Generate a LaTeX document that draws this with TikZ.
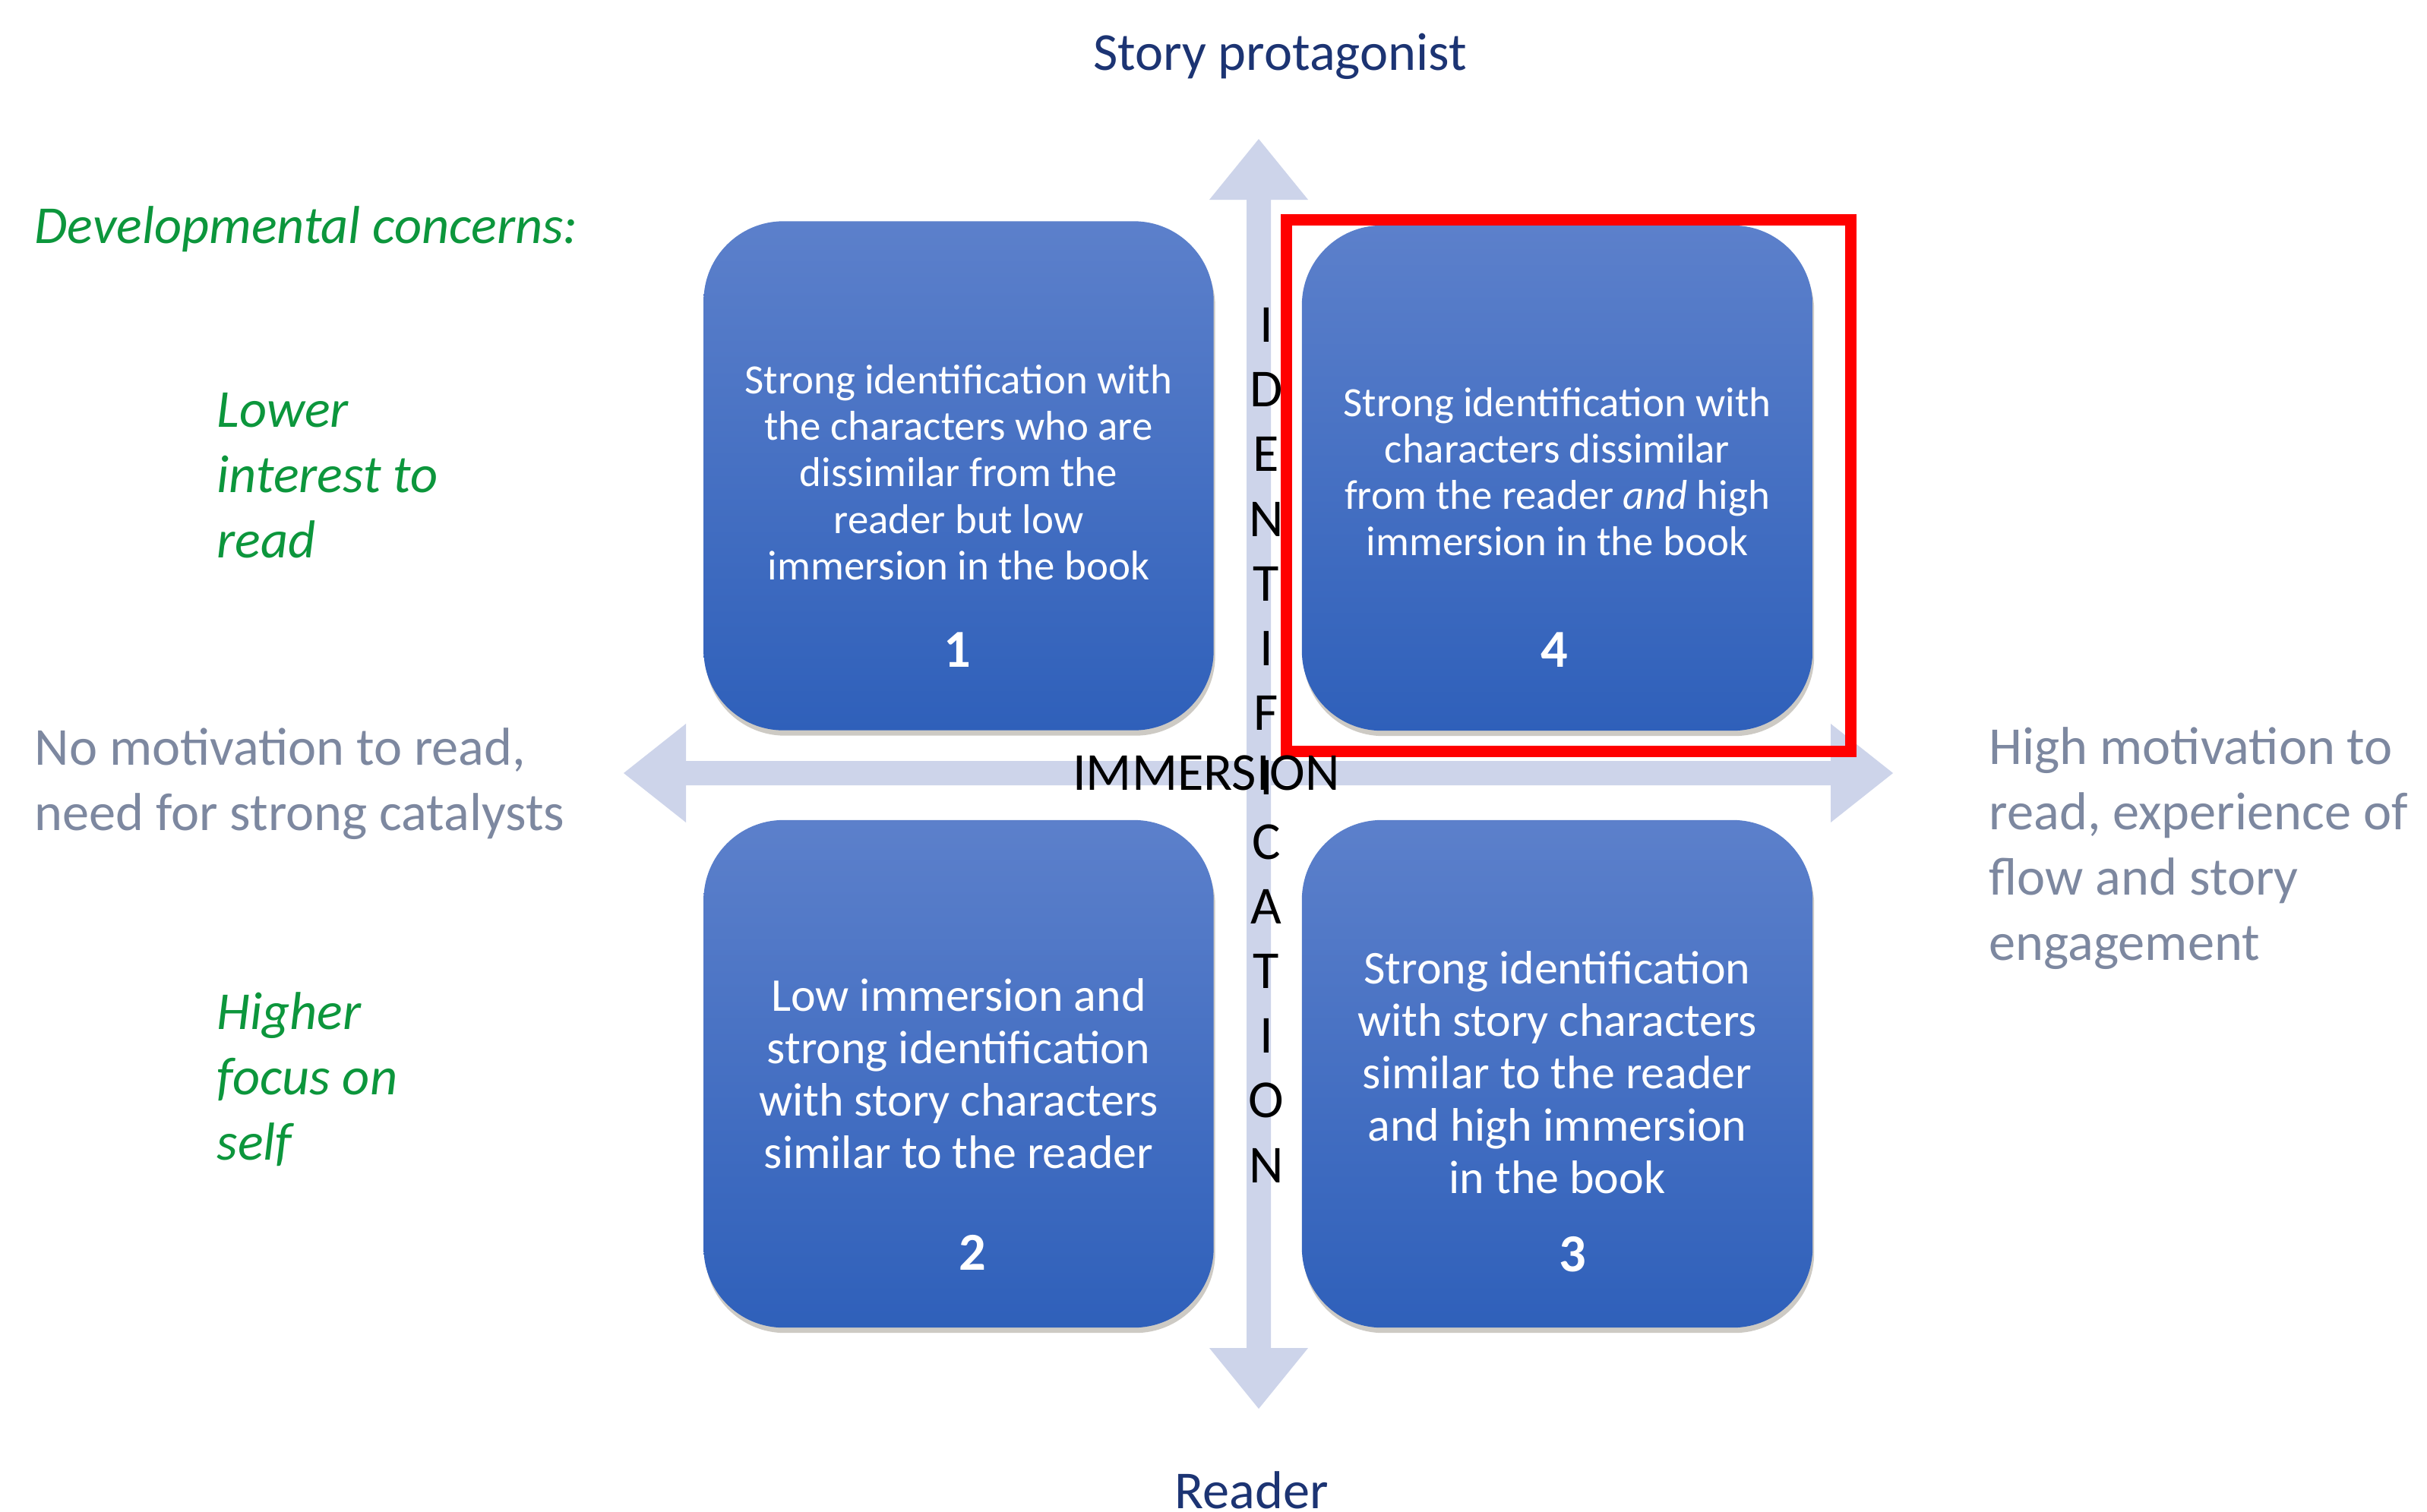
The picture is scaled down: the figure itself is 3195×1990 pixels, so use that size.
\documentclass[tikz,border=0pt]{standalone}
\usepackage{fontspec}
\setmainfont{Carlito}
\usetikzlibrary{shadows}
\definecolor{arrowc}{RGB}{205,212,234}
\definecolor{boxtop}{RGB}{92,128,203}
\definecolor{boxbot}{RGB}{47,96,186}
\definecolor{dgreen}{RGB}{12,150,60}
\definecolor{gtext}{RGB}{125,136,160}
\definecolor{navy}{RGB}{28,52,115}
\definecolor{shadowc}{RGB}{90,80,60}
\tikzset{
  qbox/.style={rounded corners=1.05cm, minimum width=6.71cm, minimum height=6.70cm,
    top color=boxtop, bottom color=boxbot, draw=none, inner sep=0pt,
    drop shadow={shadow xshift=0.02cm, shadow yshift=-0.07cm, opacity=0.3, fill=shadowc}},
  boxtxt/.style={text=white, align=center, inner sep=0pt, font=\fontsize{15.6}{17.4}\selectfont},
  boxtxtb/.style={text=white, align=center, inner sep=0pt, font=\fontsize{17.6}{19.6}\selectfont},
  numtxt/.style={text=white, inner sep=0pt, font=\fontsize{20}{24}\selectfont\bfseries},
  side/.style={align=left, anchor=west, inner sep=0pt, font=\fontsize{20}{24.5}\selectfont},
  axislab/.style={inner sep=0pt, text=navy, font=\fontsize{20}{24}\selectfont},
  letter/.style={inner sep=0pt, text height=12.9pt, text depth=0pt, font=\fontsize{20}{24}\selectfont},
  hlbox/.style={draw=red, line width=0.15cm, minimum width=7.42cm, minimum height=6.99cm, inner sep=0pt}
}
\begin{document}
\begin{tikzpicture}[x=0.01cm,y=-0.01cm]
\useasboundingbox[fill=white] (0,0) rectangle (3195,1990);

% axes (double-headed block arrows)
\fill[arrowc] (1657,183) -- (1722,263) -- (1673,263) -- (1673,1775) -- (1722,1775)
  -- (1657,1855) -- (1592,1775) -- (1641,1775) -- (1641,263) -- (1592,263) -- cycle;
\fill[arrowc] (821,1018) -- (903,953) -- (903,1002) -- (2410,1002) -- (2410,953)
  -- (2492,1018) -- (2410,1083) -- (2410,1034) -- (903,1034) -- (903,1083) -- cycle;

% quadrant boxes
\node[qbox] (b1) at (1262,626.5) {};
\node[qbox, minimum width=6.72cm, minimum height=6.65cm] (b4) at (2050,629.5) {};
\node[qbox, minimum height=6.68cm] (b2) at (1262,1414) {};
\node[qbox, minimum width=6.72cm, minimum height=6.68cm] (b3) at (2050,1414) {};

\node[boxtxt] (t1) at (1262,622) {Strong identification with\\the characters who are\\dissimilar from the\\reader but low\\immersion in the book};
\node[numtxt] (n1) at (1260,856) {1};

\node[boxtxt] (t4) at (2050,621) {Strong identification with\\characters dissimilar\\from the reader \textit{and} high\\immersion in the book};
\node[numtxt] (n4) at (2046,856) {4};

\node[boxtxtb] (t2) at (1262,1414) {Low immersion and\\strong identification\\with story characters\\similar to the reader};
\node[numtxt] (n2) at (1280,1649) {2};

\node[boxtxtb] (t3) at (2050,1412) {Strong identification\\with story characters\\similar to the reader\\and high immersion\\in the book};
\node[numtxt] (n3) at (2070,1652) {3};

% highlight
\node[hlbox] (hl) at (2065,639.5) {};

% axis texts
\node[letter] (imm) at (1588,1018) {IMMERSION};
\foreach \l [count=\i from 0] in {I,D,E,N,T,I,F,I,C,A,T,I,O,N}
  \node[letter] (id\i) at (1667,{428+85.1*\i}) {\l};

\node[axislab] (top) at (1685,74) {Story protagonist};
\node[axislab] (bot) at (1648,1962) {Reader};

% side texts
\node[side, text=dgreen, font=\fontsize{20}{24.5}\selectfont\itshape] (dev) at (45,302) {Developmental concerns:};
\node[side, text=dgreen, font=\fontsize{20}{24.5}\selectfont\itshape] (low) at (285,626) {Lower\\interest to\\read};
\node[side, text=dgreen, font=\fontsize{20}{24.5}\selectfont\itshape] (high) at (285,1421) {Higher\\focus on\\self};
\node[side, text=gtext] (nomot) at (45,1032) {No motivation to read,\\need for strong catalysts};
\node[side, text=gtext] (himot) at (2618,1117) {High motivation to\\read, experience of\\flow and story\\engagement};
\end{tikzpicture}
\end{document}
